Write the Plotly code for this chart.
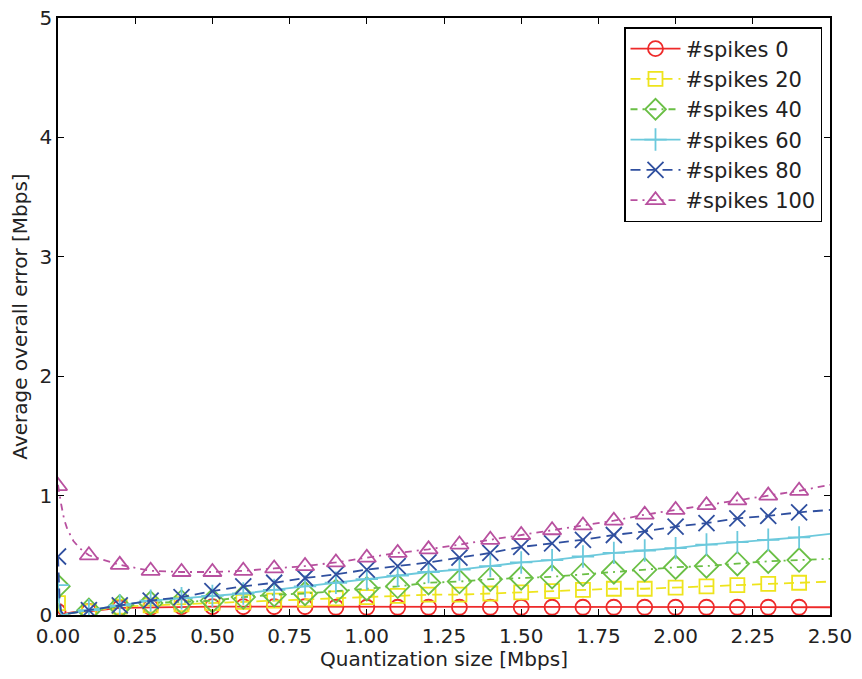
import plotly.graph_objects as go

# ---- data ----
x_marks = [0.0, 0.1, 0.2, 0.3, 0.4, 0.5, 0.6, 0.7, 0.8, 0.9, 1.0, 1.1, 1.2,
           1.3, 1.4, 1.5, 1.6, 1.7, 1.8, 1.9, 2.0, 2.1, 2.2, 2.3, 2.4]
x_head = [0.0, 0.005, 0.01, 0.02, 0.03, 0.05, 0.07]
x_end = 2.5

names = ["#spikes 0", "#spikes 20", "#spikes 40", "#spikes 60", "#spikes 80", "#spikes 100"]

spk0_head = [0.03, 0.01, 0.005, 0.01, 0.02, 0.025, 0.03]
spk0_marks = [0.03, 0.03, 0.06, 0.065, 0.07, 0.07, 0.07, 0.07, 0.07, 0.065, 0.065, 0.065, 0.065,
              0.065, 0.065, 0.065, 0.065, 0.065, 0.065, 0.065, 0.065, 0.065, 0.065, 0.065, 0.065]
spk0_end = 0.065

spk20_head = [0.10, 0.03, 0.005, 0.0, 0.01, 0.02, 0.025]
spk20_marks = [0.10, 0.03, 0.07, 0.08, 0.09, 0.10, 0.11, 0.12, 0.13, 0.14, 0.15, 0.16, 0.17,
               0.17, 0.18, 0.19, 0.20, 0.21, 0.22, 0.22, 0.23, 0.24, 0.25, 0.26, 0.27]
spk20_end = 0.28

spk40_head = [0.24, 0.06, 0.01, 0.0, 0.01, 0.02, 0.03]
spk40_marks = [0.24, 0.04, 0.07, 0.10, 0.11, 0.12, 0.15, 0.17, 0.18, 0.20, 0.22, 0.24, 0.27,
               0.28, 0.30, 0.31, 0.32, 0.34, 0.36, 0.38, 0.40, 0.41, 0.43, 0.45, 0.46]
spk40_end = 0.47

spk60_head = [0.25, 0.06, 0.01, 0.0, 0.01, 0.02, 0.03]
spk60_marks = [0.25, 0.04, 0.08, 0.12, 0.14, 0.16, 0.18, 0.21, 0.24, 0.27, 0.30, 0.33, 0.36,
               0.38, 0.41, 0.44, 0.46, 0.49, 0.52, 0.54, 0.56, 0.59, 0.61, 0.63, 0.65]
spk60_end = 0.68

spk80_head = [0.49, 0.15, 0.03, 0.0, 0.01, 0.02, 0.03]
spk80_marks = [0.49, 0.04, 0.08, 0.12, 0.15, 0.20, 0.24, 0.27, 0.31, 0.34, 0.38, 0.41, 0.44,
               0.48, 0.52, 0.57, 0.60, 0.63, 0.67, 0.70, 0.74, 0.77, 0.81, 0.83, 0.86]
spk80_end = 0.88

spk100_head = [1.09, 1.00, 0.93, 0.80, 0.72, 0.62, 0.56]
spk100_marks = [1.08, 0.50, 0.42, 0.37, 0.36, 0.36, 0.37, 0.39, 0.41, 0.44, 0.48, 0.52, 0.55,
                0.59, 0.63, 0.67, 0.71, 0.75, 0.79, 0.84, 0.88, 0.92, 0.96, 1.00, 1.04]
spk100_end = 1.09

heads = [spk0_head, spk20_head, spk40_head, spk60_head, spk80_head, spk100_head]
marks = [spk0_marks, spk20_marks, spk40_marks, spk60_marks, spk80_marks, spk100_marks]
ends = [spk0_end, spk20_end, spk40_end, spk60_end, spk80_end, spk100_end]

x_ticks = [0.0, 0.25, 0.5, 0.75, 1.0, 1.25, 1.5, 1.75, 2.0, 2.25, 2.5]
x_ticklabels = ["0.00", "0.25", "0.50", "0.75", "1.00", "1.25", "1.50", "1.75", "2.00", "2.25", "2.50"]
y_ticks = [0, 1, 2, 3, 4, 5]

# ---- styles ----
colors = ["#ee2a2a", "#eee41c", "#6abf45", "#6cc9dc", "#2f4f9f", "#b8509f"]
symbols = ["circle-open", "square-open", "diamond-open", "cross-thin-open", "x-thin-open", "triangle-up-open"]
sizes = [15, 14, 18, 16, 16, 16]
dashes = ["solid", "10px,6px", "7px,5px,2px,5px", "solid", "10px,6px", "7px,5px,2px,5px"]

FONT = "DejaVu Sans"
TXT = "#222222"

# page body has an 8px default margin: the figure is sized/placed to compensate
PAGE_PAD = 8
W, H = 862 - 2 * PAGE_PAD, 679 - 2 * PAGE_PAD
L, R, T, B = 58 - PAGE_PAD, 862 - 830 - PAGE_PAD, 18 - PAGE_PAD, 679 - 615 - PAGE_PAD

fig = go.Figure()
for i in range(6):
    xl = x_head + x_marks[1:] + [x_end]
    yl = heads[i] + marks[i][1:] + [ends[i]]
    # line
    fig.add_trace(go.Scatter(x=xl, y=yl, mode="lines", showlegend=False,
                             line=dict(color=colors[i], width=1.8, dash=dashes[i]),
                             hoverinfo="skip"))
    # markers
    fig.add_trace(go.Scatter(x=x_marks, y=marks[i], mode="markers", showlegend=False,
                             marker=dict(symbol=symbols[i], size=sizes[i], color=colors[i],
                                         line=dict(width=1.8, color=colors[i]))))
    # legend entry
    fig.add_trace(go.Scatter(x=[None], y=[None], mode="lines+markers", name=names[i],
                             line=dict(color=colors[i], width=1.8, dash=dashes[i]),
                             marker=dict(symbol=symbols[i], size=sizes[i], color=colors[i],
                                         line=dict(width=1.8, color=colors[i]))))

axis_common = dict(showgrid=False, zeroline=False, showline=True, linecolor="black",
                   linewidth=1.5, mirror="allticks", ticks="inside", ticklen=6,
                   tickwidth=1.2, tickcolor="black", automargin=False,
                   ticklabeloverflow="allow",
                   tickfont=dict(family=FONT, size=20, color=TXT))

fig.update_xaxes(range=[0, 2.5], tickvals=x_ticks, ticktext=x_ticklabels,
                 ticklabelstandoff=2,
                 title=dict(text="Quantization size [Mbps]", standoff=18,
                            font=dict(family=FONT, size=20, color=TXT)),
                 **axis_common)
fig.update_yaxes(range=[0, 5], tickvals=y_ticks,
                 title=dict(text="Average overall error [Mbps]", standoff=8,
                            font=dict(family=FONT, size=20, color=TXT)),
                 **axis_common)

fig.update_layout(
    width=W, height=H,
    margin=dict(l=L, r=R, t=T, b=B),
    paper_bgcolor="white", plot_bgcolor="white",
    font=dict(family=FONT, color=TXT),
    legend=dict(x=(822 - 58) / 772, y=(615 - 27) / 597, xanchor="right", yanchor="top",
                bordercolor="black", borderwidth=1.5, bgcolor="white",
                font=dict(family=FONT, size=21, color=TXT),
                itemwidth=50, entrywidth=175, entrywidthmode="pixels",
                tracegroupgap=0),
)

fig.write_html("out.html")
